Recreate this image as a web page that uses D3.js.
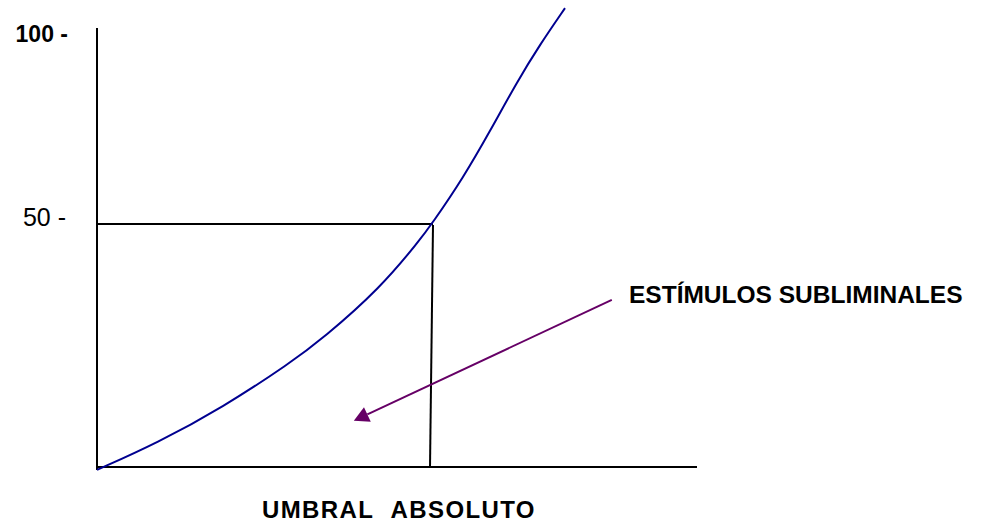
<!DOCTYPE html>
<html>
<head>
<meta charset="utf-8">
<script src="https://cdn.jsdelivr.net/npm/d3@7"></script>
<style>
  html, body { margin: 0; padding: 0; background: #ffffff; }
  svg { display: block; font-family: "Liberation Sans", Arial, sans-serif; }
</style>
</head>
<body>
<svg id="chart" width="993" height="524"></svg>
<script>
// ---- data (schematic units: x 0-100 stimulus intensity, y 0-100 % detection) ----
const curveX = [0, 10, 21, 32.2, 37.7, 47.2, 53.8, 55.8, 61, 65.5, 70, 73.8, 78];
const curveY = [-0.6, 4.9, 12.3, 21.4, 26.5, 36.8, 46.7, 50, 62.0, 74.3, 87.2, 96.9, 106.5];
const yTickValues = [100, 50];
const yTickLabels = ["100 -", "50 -"];
const thresholdY = 50;
const thresholdXTop = 56.0;
const thresholdXBottom = 55.5;
const arrowFrom = [85.8, 34.4];
const arrowTo = [42.8, 9.5];
const annotationText = "ESTÍMULOS SUBLIMINALES";
const xAxisTitle = "UMBRAL\u00A0\u00A0ABSOLUTO";

// ---- scales ----
const x = d3.scaleLinear().domain([0, 100]).range([97, 697]);
const y = d3.scaleLinear().domain([0, 50, 100]).range([467, 224, 33]);

const svg = d3.select("#chart");

// axes
svg.append("line")
  .attr("x1", x(0)).attr("x2", x(0))
  .attr("y1", y(101.3)).attr("y2", y(-0.6))
  .attr("stroke", "#000").attr("stroke-width", 2);
svg.append("line")
  .attr("x1", x(0)).attr("x2", x(100))
  .attr("y1", y(0)).attr("y2", y(0))
  .attr("stroke", "#000").attr("stroke-width", 2);

// threshold guide lines
svg.append("line")
  .attr("x1", x(0)).attr("x2", x(thresholdXTop))
  .attr("y1", y(thresholdY)).attr("y2", y(thresholdY))
  .attr("stroke", "#000").attr("stroke-width", 2);
svg.append("line")
  .attr("x1", x(thresholdXTop)).attr("x2", x(thresholdXBottom))
  .attr("y1", y(thresholdY) + 1).attr("y2", y(0))
  .attr("stroke", "#000").attr("stroke-width", 2);

// curve
const pts = curveX.map((v, i) => [v, curveY[i]]);
const line = d3.line().x(d => x(d[0])).y(d => y(d[1])).curve(d3.curveBasis);
svg.append("path")
  .datum(pts)
  .attr("d", line)
  .attr("fill", "none")
  .attr("stroke", "#000090")
  .attr("stroke-width", 2);

// arrow
const ax0 = x(arrowFrom[0]), ay0 = y(arrowFrom[1]);
const ax1 = x(arrowTo[0]), ay1 = y(arrowTo[1]);
const ang = Math.atan2(ay1 - ay0, ax1 - ax0);
const headLen = 15, headHalf = 8;
const bx = ax1 - headLen * Math.cos(ang), by = ay1 - headLen * Math.sin(ang);
svg.append("line")
  .attr("x1", ax0).attr("y1", ay0)
  .attr("x2", bx).attr("y2", by)
  .attr("stroke", "#660066").attr("stroke-width", 2);
svg.append("path")
  .attr("d", `M${ax1},${ay1}L${bx + headHalf * Math.sin(ang)},${by - headHalf * Math.cos(ang)}L${bx - headHalf * Math.sin(ang)},${by + headHalf * Math.cos(ang)}Z`)
  .attr("fill", "#660066");

// y tick labels
const tickStyle = {100: {weight: "bold", size: 23, dy: 9, xEnd: 68}, 50: {weight: "normal", size: 25, dy: 2, xEnd: 66}};
svg.selectAll("text.ytick")
  .data(yTickValues)
  .join("text")
  .attr("class", "ytick")
  .attr("x", d => tickStyle[d].xEnd)
  .attr("y", d => y(d) + tickStyle[d].dy)
  .attr("text-anchor", "end")
  .attr("font-weight", d => tickStyle[d].weight)
  .attr("font-size", d => tickStyle[d].size + "px")
  .attr("fill", "#000")
  .text((d, i) => yTickLabels[i]);

// annotation
svg.append("text")
  .attr("x", 629).attr("y", 303)
  .attr("font-weight", "bold").attr("font-size", "24.5px")
  .attr("fill", "#000")
  .text(annotationText);

// x axis title
svg.append("text")
  .attr("x", 262).attr("y", 518)
  .attr("font-weight", "bold").attr("font-size", "24px")
  .attr("letter-spacing", "1.4px")
  .attr("fill", "#000")
  .text(xAxisTitle);
</script>
</body>
</html>
